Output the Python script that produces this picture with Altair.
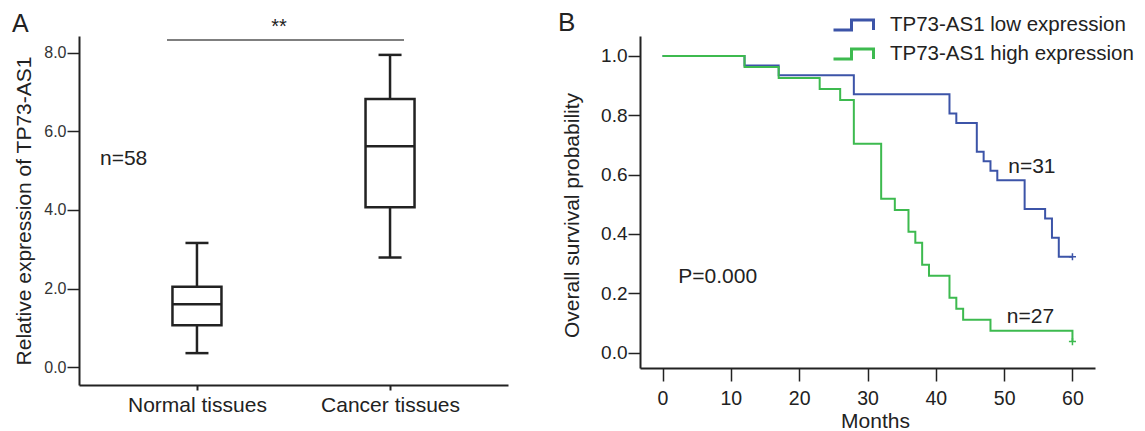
import altair as alt
import pandas as pd

# ---------------- Panel A data (box plot summary) ----------------
groups = ["Normal tissues", "Cancer tissues"]
box_min = [0.36, 2.79]
box_q1 = [1.07, 4.07]
box_median = [1.60, 5.62]
box_q3 = [2.05, 6.82]
box_max = [3.16, 7.94]
sig_level = [8.32]
sig_label = ["**"]
sig_label_y = [8.65]
n_label = ["n=58"]
n_label_y = [5.30]

# ---------------- Panel B data (Kaplan-Meier) ----------------
low_name = "TP73-AS1 low expression"
high_name = "TP73-AS1 high expression"
low_months = [0, 12, 17, 28, 42, 43, 46, 47, 48, 49, 53, 56, 57, 58, 60]
low_surv = [1.0, 0.968, 0.935, 0.871, 0.806, 0.774, 0.677, 0.645, 0.613,
            0.581, 0.484, 0.452, 0.387, 0.323, 0.323]
high_months = [0, 12, 17, 23, 26, 28, 32, 34, 36, 37, 38, 39, 42, 43, 44, 48, 60]
high_surv = [1.0, 0.963, 0.926, 0.889, 0.852, 0.704, 0.519, 0.481, 0.407,
             0.370, 0.296, 0.259, 0.185, 0.148, 0.111, 0.074, 0.037]
censor_group = [low_name, high_name]
censor_month = [60, 60]
censor_surv = [0.323, 0.037]
ann_text = ["n=31", "n=27", "P=0.000"]
ann_month = [50.6, 50.4, 2.3]
ann_surv = [0.625, 0.119, 0.254]
panel_labels = ["A", "B"]

BLUE = "#3c54a8"
GREEN = "#3dba4f"
INK = "#222222"
FONT = "Liberation Sans"

# ---------------- Panel A ----------------
box_df = pd.DataFrame({"group": groups, "min": box_min, "q1": box_q1,
                       "median": box_median, "q3": box_q3, "max": box_max})
sig_df = pd.DataFrame({"y": sig_level, "label": sig_label, "ly": sig_label_y})
n_df = pd.DataFrame({"label": n_label, "y": n_label_y})
a_df = pd.DataFrame({"label": [panel_labels[0]]})

ya_scale = alt.Scale(domain=[-0.45, 8.42], nice=False, zero=False)
ya_axis = alt.Axis(title="Relative expression of TP73-AS1", values=[0, 2, 4, 6, 8],
                   format=".1f", grid=False, labelFontSize=16, labelColor="#333",
                   tickSize=12, tickWidth=1.5, tickColor=INK, labelPadding=1,
                   domainColor=INK, domainWidth=2, titleFontSize=21,
                   titleFontWeight="normal", titleColor=INK, titlePadding=9)
xa = alt.X("group:N", sort=groups,
           scale=alt.Scale(type="point", padding=0.611),
           axis=alt.Axis(title=None, labelAngle=0, labelFontSize=21, labelColor=INK,
                         tickSize=5, tickWidth=2, tickColor=INK, labelPadding=4,
                         domainColor=INK, domainWidth=2))

whisk = alt.Chart(box_df).mark_rule(color=INK, strokeWidth=2.5).encode(
    x=xa, y=alt.Y("min:Q", scale=ya_scale, axis=ya_axis), y2="max:Q")
box = alt.Chart(box_df).mark_bar(size=49, fill="white", stroke=INK, strokeWidth=2.5).encode(
    x=xa, y=alt.Y("q1:Q", scale=ya_scale, axis=ya_axis), y2="q3:Q")
med = alt.Chart(box_df).mark_tick(size=49, thickness=2.5, color=INK, opacity=1).encode(
    x=xa, y=alt.Y("median:Q", scale=ya_scale, axis=ya_axis))
cap_lo = alt.Chart(box_df).mark_tick(size=23, thickness=2.5, color=INK, opacity=1).encode(
    x=xa, y=alt.Y("min:Q", scale=ya_scale, axis=ya_axis))
cap_hi = alt.Chart(box_df).mark_tick(size=23, thickness=2.5, color=INK, opacity=1).encode(
    x=xa, y=alt.Y("max:Q", scale=ya_scale, axis=ya_axis))
sig_rule = alt.Chart(sig_df).mark_rule(color="#555", strokeWidth=1.5).encode(
    x=alt.value(88), x2=alt.value(325), y=alt.Y("y:Q", scale=ya_scale, axis=ya_axis))
sig_text = alt.Chart(sig_df).mark_text(fontSize=20, color=INK, baseline="middle").encode(
    x=alt.value(200), y=alt.Y("ly:Q", scale=ya_scale, axis=ya_axis), text="label:N")
n_text = alt.Chart(n_df).mark_text(fontSize=21, color=INK, align="left", baseline="middle").encode(
    x=alt.value(21), y=alt.Y("y:Q", scale=ya_scale, axis=ya_axis), text="label:N")
a_text = alt.Chart(a_df).mark_text(fontSize=25, color=INK, align="left", baseline="middle").encode(
    x=alt.value(-67), y=alt.value(-12), text="label:N")
a_anchor = alt.Chart(a_df).mark_rule(strokeOpacity=0, strokeWidth=1).encode(
    x=alt.value(-70.5), x2=alt.value(-69.5), y=alt.value(-27.5))

panel_a = alt.layer(whisk, box, med, cap_lo, cap_hi, sig_rule, sig_text, n_text,
                    a_text, a_anchor).properties(width=429, height=349)

# ---------------- Panel B ----------------
km_low = pd.DataFrame({"group": low_name, "month": low_months, "surv": low_surv})
km_high = pd.DataFrame({"group": high_name, "month": high_months, "surv": high_surv})
cens_df = pd.DataFrame({"group": censor_group, "month": censor_month, "surv": censor_surv})
ann_df = pd.DataFrame({"label": ann_text, "month": ann_month, "surv": ann_surv})
b_df = pd.DataFrame({"label": [panel_labels[1]]})

xb_scale = alt.Scale(domain=[-3.3, 63.3], nice=False, zero=False)
yb_scale = alt.Scale(domain=[-0.052, 1.0674], nice=False, zero=False)
xb_axis = alt.Axis(title="Months", values=[0, 10, 20, 30, 40, 50, 60], grid=False,
                   labelFontSize=19.5, labelColor=INK, tickSize=13, tickWidth=1.5,
                   tickColor=INK, labelPadding=8, domainColor=INK, domainWidth=2,
                   titleFontSize=21, titleFontWeight="normal", titleColor=INK,
                   titlePadding=3, titleX=235)
yb_axis = alt.Axis(title="Overall survival probability", values=[0, 0.2, 0.4, 0.6, 0.8, 1.0],
                   format=".1f", grid=False, labelFontSize=19, labelColor=INK,
                   tickSize=12, tickWidth=1.5, tickColor=INK, labelPadding=1,
                   domainColor=INK, domainWidth=2, titleFontSize=21,
                   titleFontWeight="normal", titleColor=INK, titlePadding=18, titleY=179)
color_scale = alt.Scale(domain=[low_name, high_name], range=[BLUE, GREEN])
legend = alt.Legend(title=None, orient="none", legendX=763, legendY=-22.5,
                    symbolType="M-2,0.5H-0.2V-0.5H2V0.5", symbolSize=400,
                    symbolStrokeWidth=3, symbolFillColor="transparent",
                    labelFontSize=20.5, labelColor=INK, labelOffset=25, rowPadding=6,
                    labelLimit=400)

xb = alt.X("month:Q", scale=xb_scale, axis=xb_axis)
yb = alt.Y("surv:Q", scale=yb_scale, axis=yb_axis)

line_low = alt.Chart(km_low).mark_line(interpolate="step-after", strokeWidth=2).encode(
    x=xb, y=yb, color=alt.Color("group:N", scale=color_scale, legend=legend))
line_high = alt.Chart(km_high).mark_line(interpolate="step-after", strokeWidth=2).encode(
    x=xb, y=yb, color=alt.Color("group:N", scale=color_scale, legend=legend))
cens = alt.Chart(cens_df).mark_point(shape="M-1,0H1M0,-1V1", size=50, strokeWidth=1.5,
                                     filled=False, opacity=1).encode(
    x=xb, y=yb, color=alt.Color("group:N", scale=color_scale, legend=None))
ann = alt.Chart(ann_df).mark_text(fontSize=21, color=INK, align="left", baseline="middle").encode(
    x=xb, y=yb, text="label:N")
b_text = alt.Chart(b_df).mark_text(fontSize=26, color=INK, align="left", baseline="middle").encode(
    x=alt.value(-82), y=alt.value(-13.5), text="label:N")
b_anchor = alt.Chart(b_df).mark_rule(strokeOpacity=0, strokeWidth=1).encode(
    x=alt.value(-108.5), x2=alt.value(-107.5), y=alt.value(-27.5))

panel_b = alt.layer(line_low, line_high, cens, ann, b_text, b_anchor).properties(
    width=455, height=332)

chart = alt.hconcat(panel_a, panel_b, spacing=22).properties(padding=0).configure(
    font=FONT).configure_view(stroke="transparent")

chart.save("out.html", embed_options={"renderer": "svg", "actions": False})
